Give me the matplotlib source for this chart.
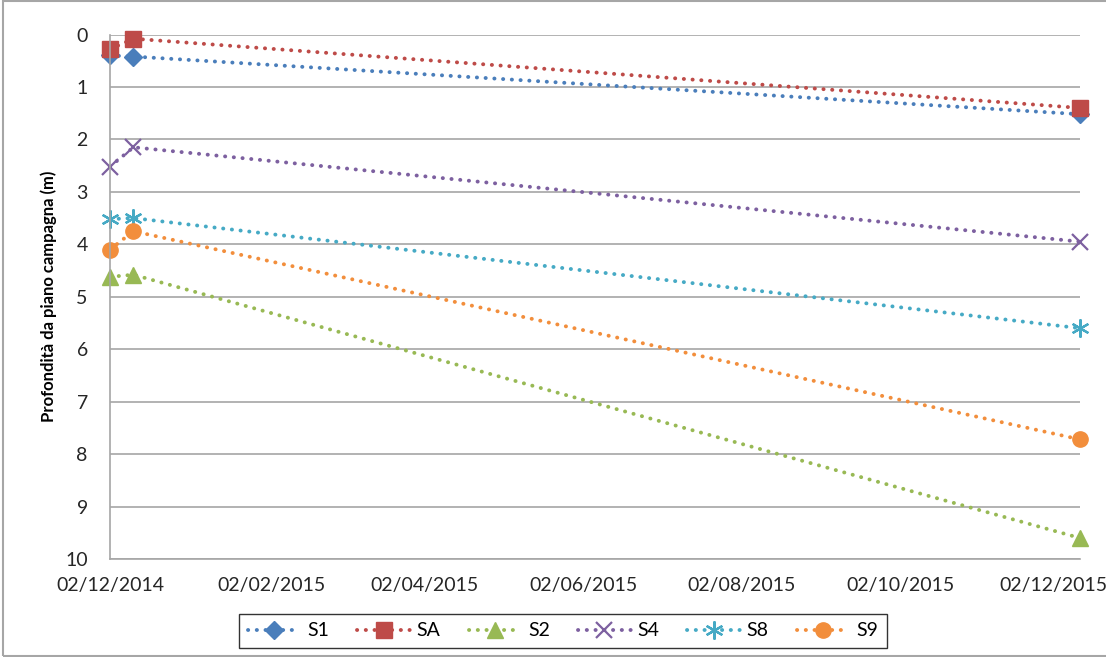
import matplotlib
matplotlib.use("Agg")
import matplotlib.pyplot as plt
import matplotlib.dates as mdates
import matplotlib.transforms as mtransforms
from matplotlib.patches import Rectangle
import datetime as dt

# Survey dates
dates = [dt.date(2014, 12, 2), dt.date(2014, 12, 11), dt.date(2015, 12, 10)]

# Depth from ground level (m) for each well
series_names = ["S1", "SA", "S2", "S4", "S8", "S9"]
s1 = [0.40, 0.42, 1.52]
sa = [0.28, 0.08, 1.40]
s2 = [4.62, 4.58, 9.60]
s4 = [2.52, 2.15, 3.95]
s8 = [3.52, 3.50, 5.60]
s9 = [4.10, 3.75, 7.72]

tick_dates = [dt.date(2014, 12, 2), dt.date(2015, 2, 2), dt.date(2015, 4, 2),
              dt.date(2015, 6, 2), dt.date(2015, 8, 2), dt.date(2015, 10, 2),
              dt.date(2015, 12, 2)]
x_range = (dt.date(2014, 12, 2), dt.date(2015, 12, 10))
y_ticks = list(range(0, 11))

colors = ["#4A7EBB", "#BE4B48", "#98B954", "#7D60A0", "#46AAC5", "#F28E3C"]
markers = ["D", "s", "^", "x", (6, 2, 0), "o"]
sizes = [9, 11, 11, 12, 13, 11]

plt.rcParams["font.family"] = ["Lato", "DejaVu Sans"]

fig = plt.figure(figsize=(11.06, 6.57), dpi=100)
ax = fig.add_axes([110 / 1106, 1 - 559 / 657, 970 / 1106, (559 - 34.5) / 657])

dot_style = (0, (0.05, 2.2))
all_series = [s1, sa, s2, s4, s8, s9]
for name, vals, c, m, ms in zip(series_names, all_series, colors, markers, sizes):
    line_kw = dict(linestyle=dot_style, dash_capstyle="round", color=c,
                   linewidth=2.8, marker=m, markersize=ms, markeredgecolor=c,
                   label=name, clip_on=False)
    if m in ("x", (6, 2, 0)):
        line_kw["markeredgewidth"] = 1.6
    else:
        line_kw["markerfacecolor"] = c
    ax.plot(dates, vals, **line_kw)

ax.set_xlim(*x_range)
ax.set_ylim(10, 0)
ax.set_yticks(y_ticks)
ax.set_xticks(tick_dates)
ax.xaxis.set_major_formatter(mdates.DateFormatter("%d/%m/%Y"))

ax.grid(axis="y", color="#A6A6A6", linewidth=1.2)
ax.set_axisbelow(True)
for side in ["top", "right"]:
    ax.spines[side].set_visible(False)
for side in ["left", "bottom"]:
    ax.spines[side].set_color("#A6A6A6")
    ax.spines[side].set_linewidth(1.2)
ax.tick_params(axis="both", length=0, labelsize=14, labelcolor="#262626")
ax.tick_params(axis="x", pad=13)
ax.tick_params(axis="y", pad=16)

# keep the last date label inside the figure edge
fig.canvas.draw()
last_label = ax.get_xticklabels()[-1]
last_label.set_transform(last_label.get_transform() +
                         mtransforms.ScaledTranslation(-6 / 100, 0, fig.dpi_scale_trans))

ax.set_ylabel("Profondità da piano campagna (m)", fontsize=12, fontweight="bold",
              labelpad=6)

leg = fig.legend(loc="center", bbox_to_anchor=(563 / 1106, 1 - 631 / 657),
                 ncol=6, frameon=True, fancybox=False, fontsize=14,
                 handlelength=2.7, columnspacing=1.45, handletextpad=0.35,
                 borderpad=0.45)
leg.get_frame().set_edgecolor("black")
leg.get_frame().set_linewidth(1.0)

# outer chart border
fig.patches.append(Rectangle((3 / 1106, 0.002), 1.2, 0.996, transform=fig.transFigure,
                             fill=False, edgecolor="#A6A6A6", linewidth=1.5))

fig.savefig("out.png", dpi=100)
